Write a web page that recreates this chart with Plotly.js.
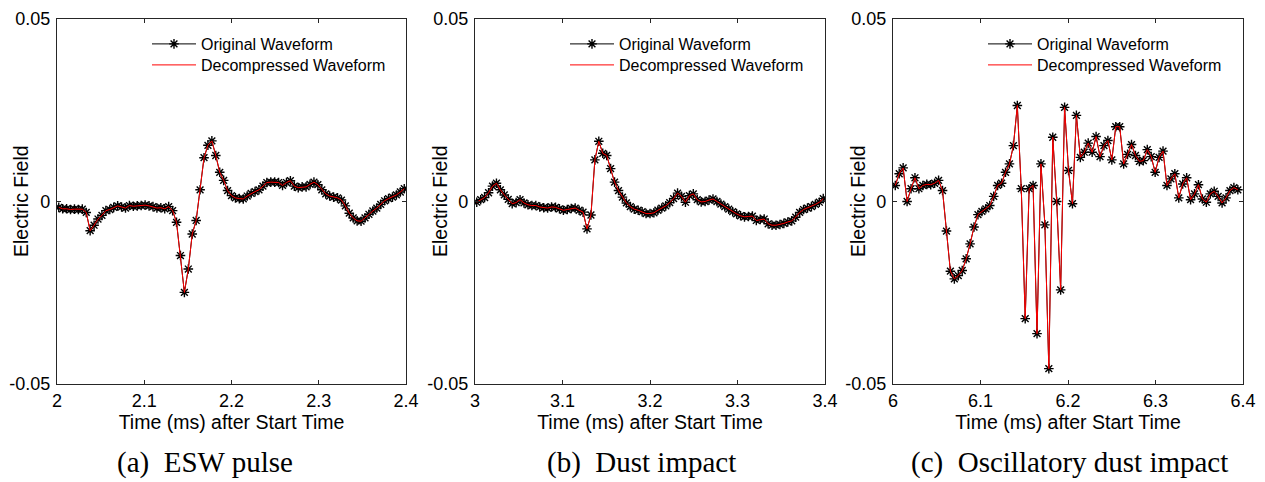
<!DOCTYPE html>
<html><head><meta charset="utf-8">
<script src="https://cdn.plot.ly/plotly-3.0.1.min.js"></script>
<style>html,body{margin:0;padding:0;background:#fff}#chart{width:1265px;height:482px}</style>
</head><body><div id="chart"></div>
<script>
// ---- data ----
const sampleStep = 0.0045;              // ms between samples
const startEsw = 2.002, startDust = 3.002, startOsc = 6.0026;

const eswValues = [
 -0.0016,-0.0020,-0.0020,-0.0022,-0.0021,-0.0022,-0.0021,-0.0030,-0.0080,-0.0065,
 -0.0048,-0.0038,-0.0025,-0.0022,-0.0016,-0.0012,-0.0015,-0.0018,-0.0011,-0.0013,
 -0.0012,-0.0011,-0.0010,-0.0012,-0.0014,-0.0018,-0.0017,-0.0020,-0.0014,-0.0025,
 -0.0057,-0.0148,-0.0249,-0.0185,-0.0089,-0.0052,0.0032,0.0120,0.0154,0.0166,
 0.0126,0.0080,0.0058,0.0030,0.0016,0.0010,0.0008,0.0007,0.0015,0.0022,
 0.0027,0.0032,0.0042,0.0052,0.0053,0.0053,0.0052,0.0044,0.0052,0.0057,
 0.0042,0.0038,0.0040,0.0040,0.0047,0.0053,0.0046,0.0032,0.0021,0.0015,
 0.0012,0.0010,0.0004,-0.0012,-0.0032,-0.0045,-0.0053,-0.0054,-0.0045,-0.0035,
 -0.0026,-0.0018,-0.0008,0.0002,0.0008,0.0012,0.0018,0.0026,0.0035
];
const dustValues = [
 -0.0002,0.0005,0.0011,0.0024,0.0042,0.0050,0.0032,0.0018,0.0006,-0.0006,
 -0.0003,0.0005,-0.0004,-0.0009,-0.0011,-0.0011,-0.0015,-0.0017,-0.0018,-0.0015,
 -0.0016,-0.0020,-0.0024,-0.0022,-0.0019,-0.0018,-0.0024,-0.0029,-0.0075,-0.0037,
 0.0114,0.0165,0.0132,0.0126,0.0090,0.0053,0.0030,0.0012,-0.0004,-0.0014,
 -0.0021,-0.0024,-0.0028,-0.0033,-0.0033,-0.0031,-0.0024,-0.0018,-0.0012,-0.0003,
 0.0008,0.0023,0.0014,-0.0002,0.0016,0.0021,0.0005,-0.0001,0.0000,0.0004,
 0.0007,0.0000,-0.0007,-0.0014,-0.0021,-0.0028,-0.0034,-0.0039,-0.0042,-0.0041,
 -0.0040,-0.0052,-0.0049,-0.0048,-0.0061,-0.0065,-0.0065,-0.0063,-0.0060,-0.0056,
 -0.0053,-0.0043,-0.0030,-0.0022,-0.0018,-0.0014,-0.0008,-0.0002,0.0008
];
const oscValues = [
 0.0044,0.0076,0.0092,0.0000,0.0035,0.0065,0.0035,0.0044,0.0047,0.0046,
 0.0050,0.0058,0.0030,-0.0081,-0.0191,-0.0212,-0.0203,-0.0189,-0.0157,-0.0116,
 -0.0070,-0.0036,-0.0027,-0.0020,-0.0011,0.0014,0.0044,0.0050,0.0080,0.0103,
 0.0153,0.0263,0.0035,-0.0321,0.0035,0.0044,-0.0362,0.0103,-0.0064,-0.0458,
 0.0176,0.0000,-0.0242,0.0258,0.0085,-0.0006,0.0236,0.0121,0.0135,0.0160,
 0.0135,0.0178,0.0123,0.0153,0.0167,0.0114,0.0205,0.0205,0.0103,0.0129,
 0.0156,0.0126,0.0110,0.0112,0.0142,0.0123,0.0080,0.0121,0.0138,0.0044,
 0.0062,0.0076,0.0010,0.0048,0.0065,0.0005,0.0021,0.0046,0.0007,-0.0002,
 0.0021,0.0028,0.0014,-0.0004,0.0010,0.0030,0.0038,0.0032
];
// decompressed waveform overlays the original exactly in the picture
const eswDecompressed = eswValues.slice();
const dustDecompressed = dustValues.slice();
const oscDecompressed = oscValues.slice();

const xTicksEsw = [2, 2.1, 2.2, 2.3, 2.4];
const xTicksDust = [3, 3.1, 3.2, 3.3, 3.4];
const xTicksOsc = [6, 6.1, 6.2, 6.3, 6.4];
const xTickTextEsw = ['2', '2.1', '2.2', '2.3', '2.4'];
const xTickTextDust = ['3', '3.1', '3.2', '3.3', '3.4'];
const xTickTextOsc = ['6', '6.1', '6.2', '6.3', '6.4'];
const yTicks = [-0.05, 0, 0.05];
const yTickText = ['-0.05', '0', '0.05'];
const seriesNames = ['Original Waveform', 'Decompressed Waveform'];
const captions = ['(a)  ESW pulse', '(b)  Dust impact', '(c)  Oscillatory dust impact'];
const xTitle = 'Time (ms) after Start Time';
const yTitle = 'Electric Field';

// ---- build ----
function times(start, n) { const t = []; for (let i = 0; i < n; i++) t.push(+(start + i * sampleStep).toFixed(5)); return t; }

const panels = [
  {start: startEsw, orig: eswValues, dec: eswDecompressed, ticks: xTicksEsw, text: xTickTextEsw, range: [2, 2.4]},
  {start: startDust, orig: dustValues, dec: dustDecompressed, ticks: xTicksDust, text: xTickTextDust, range: [3, 3.4]},
  {start: startOsc, orig: oscValues, dec: oscDecompressed, ticks: xTicksOsc, text: xTickTextOsc, range: [6, 6.4]}
];
const W = 1265, H = 482, TOP = 19, PH = 365;
const pxLeft = [57, 475, 893], pxRight = [406, 825, 1243];
const yTitleX = [21, 440, 858];
const captionX = [205, 641, 1069];
const axColor = '#262626';
const fontSans = 'Liberation Sans, Arial, Helvetica, sans-serif';

const traces = [];
const layout = {
  width: W, height: H,
  margin: {l: 0, r: 0, t: TOP, b: H - TOP - PH},
  paper_bgcolor: '#fff', plot_bgcolor: '#fff',
  font: {family: fontSans, color: '#000', size: 18},
  showlegend: true,
  annotations: []
};
function legendBox(px, rowY) {
  return {
    x: px / W, y: 1 - (rowY - TOP) / PH, xref: 'paper', yref: 'paper',
    xanchor: 'left', yanchor: 'middle', bgcolor: 'rgba(0,0,0,0)', borderwidth: 0,
    font: {size: 16, family: fontSans, color: '#000'}, itemwidth: 44
  };
}
panels.forEach((p, k) => {
  const sfx = k === 0 ? '' : String(k + 1);
  const t = times(p.start, p.orig.length);
  const legA = 'legend' + (2 * k === 0 ? '' : String(2 * k + 1));
  const legB = 'legend' + String(2 * k + 2);
  traces.push({
    x: t, y: p.orig, name: seriesNames[0], type: 'scatter', mode: 'lines+markers',
    xaxis: 'x' + sfx, yaxis: 'y' + sfx, legend: legA,
    line: {color: '#000', width: 1},
    marker: {symbol: 'asterisk-open', size: 8, color: '#000', line: {color: '#000', width: 1.4}}
  });
  traces.push({
    x: t, y: p.dec, name: seriesNames[1], type: 'scatter', mode: 'lines',
    xaxis: 'x' + sfx, yaxis: 'y' + sfx, legend: legB,
    line: {color: '#ff0000', width: 1}
  });
  const axisBase = {
    showline: true, linecolor: axColor, linewidth: 1.2, mirror: 'ticks',
    ticks: 'inside', ticklen: 4, tickwidth: 1, tickcolor: axColor,
    showgrid: false, zeroline: false, tickfont: {size: 18, color: '#000', family: fontSans}
  };
  layout['xaxis' + sfx] = Object.assign({}, axisBase, {
    domain: [pxLeft[k] / W, pxRight[k] / W], anchor: 'y' + sfx, range: p.range,
    tickmode: 'array', tickvals: p.ticks, ticktext: p.text, ticklabelstandoff: 0,
    title: {text: xTitle, font: {size: 19.5, family: fontSans, color: '#000'}, standoff: 0}
  });
  layout['yaxis' + sfx] = Object.assign({}, axisBase, {
    domain: [0, 1], anchor: 'x' + sfx, range: [-0.05, 0.05],
    tickmode: 'array', tickvals: yTicks, ticktext: yTickText, ticklabelstandoff: 2
  });
  layout[legA] = legendBox(pxLeft[k] + 90, 44);
  layout[legB] = legendBox(pxLeft[k] + 90, 65);
  layout.annotations.push({
    text: yTitle, xref: 'paper', yref: 'paper', showarrow: false, textangle: -90,
    x: yTitleX[k] / W, y: 1 - (201 - TOP) / PH, xanchor: 'center', yanchor: 'middle',
    font: {family: fontSans, size: 19.5, color: '#000'}
  });
  layout.annotations.push({
    text: captions[k], xref: 'paper', yref: 'paper', showarrow: false,
    x: captionX[k] / W, y: -(462 - TOP - PH) / PH, xanchor: 'center', yanchor: 'middle',
    font: {family: 'Liberation Serif, Times New Roman, serif', size: 29, color: '#000'}
  });
});
Plotly.newPlot('chart', traces, layout, {displayModeBar: false, staticPlot: true});
</script></body></html>
